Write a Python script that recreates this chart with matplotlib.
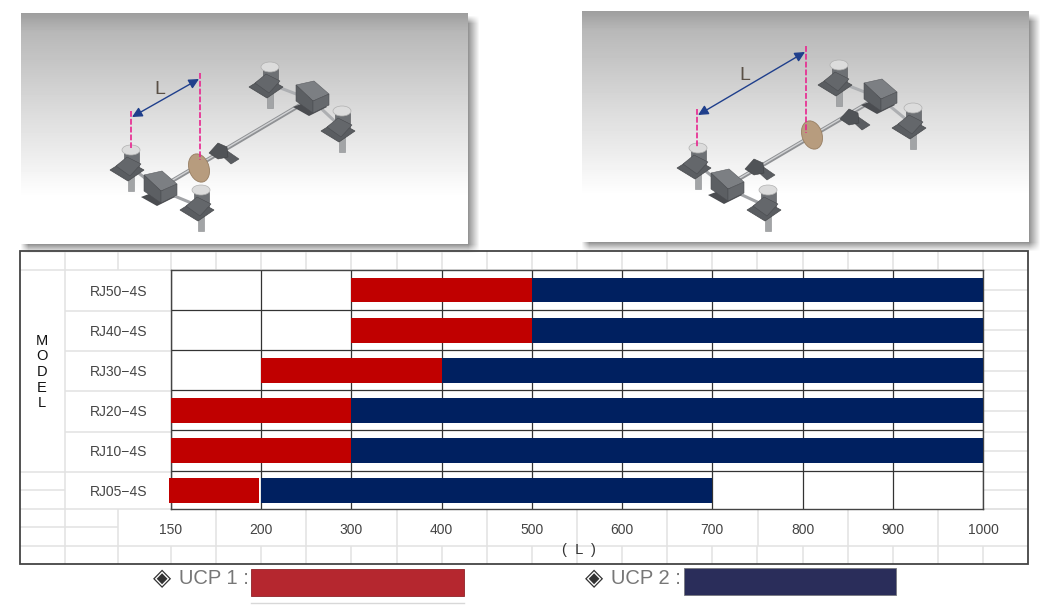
import numpy as np
import matplotlib
matplotlib.use('Agg')
import matplotlib.pyplot as plt
from matplotlib.patches import Rectangle, Polygon, Ellipse, FancyArrowPatch

plt.rcParams['font.family'] = ['Liberation Sans', 'DejaVu Sans']

# chart data, top row first
models = ['RJ50−4S', 'RJ40−4S', 'RJ30−4S', 'RJ20−4S', 'RJ10−4S', 'RJ05−4S']
ucp1_start = [300, 300, 200, 150, 150, 149]
ucp1_end = [500, 500, 400, 300, 300, 199]
ucp2_start = [500, 500, 400, 300, 300, 200]
ucp2_end = [1000, 1000, 1000, 1000, 1000, 700]
x_ticks = [150, 200, 300, 400, 500, 600, 700, 800, 900, 1000]

RED = '#c00000'
NAVY = '#002060'
W, H = 1050, 615

fig = plt.figure(figsize=(W / 100, H / 100), dpi=100)

# full size axes in pixel coordinates for everything around the chart
bg = fig.add_axes([0, 0, 1, 1])
bg.axis('off')


def shadow(x0, y0, x1, y1):
    # soft shadow falling to the right and below the panel
    xs = np.arange(x0, x1 + 12)
    ys = np.arange(y0, y1 + 10)
    ax_fade = np.clip((x1 + 11 - xs) / 11, 0, 1) * np.clip((xs - x0 + 1) / 8, 0, 1)
    ay_fade = np.clip((y1 + 9 - ys) / 9, 0, 1) * np.clip((ys - y0 - 2) / 8, 0, 1)
    rgba = np.zeros((len(ys), len(xs), 4))
    rgba[..., 3] = 0.42 * np.outer(ay_fade, ax_fade)
    bg.imshow(rgba, aspect='auto', extent=(x0, x1 + 12, y1 + 10, y0), zorder=1,
              interpolation='bilinear')


def panel(x0, y0, x1, y1):
    shadow(x0, y0, x1, y1)
    n = y1 - y0
    t = np.linspace(0, 1, n)
    # grey at the top fading to white about three quarters down
    vals = np.interp(t, [0, 0.08, 0.25, 0.45, 0.62, 0.72, 0.8, 1],
                     [0.62, 0.72, 0.79, 0.87, 0.93, 0.97, 1.0, 1.0])
    bg.imshow(vals[:, None], cmap='gray', vmin=0, vmax=1, aspect='auto',
              extent=(x0, x1, y1, y0), zorder=2)


def jack(x, y):
    # x, y is the centre of the top disc
    bg.add_patch(Rectangle((x - 3, y + 22), 6, 19, fc='#a2a4a6', ec='#8a8c8f', lw=0.4, zorder=4))
    bg.add_patch(Polygon([(x - 21, y + 20), (x - 5, y + 10), (x + 13, y + 20), (x - 3, y + 31)],
                         fc='#5a5d61', ec='#46484b', lw=0.5, zorder=5))
    bg.add_patch(Rectangle((x - 7, y + 2), 15, 15, fc='#6d7074', ec='#505256', lw=0.4, zorder=6))
    bg.add_patch(Polygon([(x - 15, y + 16), (x - 4, y + 7), (x + 10, y + 14), (x - 1, y + 26)],
                         fc='#64676b', ec='#4a4c50', lw=0.4, zorder=6))
    bg.add_patch(Ellipse((x, y), 18, 10, fc='#dcdcdc', ec='#b0b0b0', lw=0.5, zorder=7))


def gearbox(x, y):
    bg.add_patch(Polygon([(x - 19, y + 9), (x + 2, y + 1), (x + 15, y + 9), (x - 3, y + 18)],
                         fc='#4a4c50', ec='none', zorder=6))
    bg.add_patch(Polygon([(x - 16, y - 13), (x + 2, y - 17), (x + 17, y - 4), (x + 1, y + 3)],
                         fc='#7c7f83', ec='#5c5e62', lw=0.4, zorder=7))
    bg.add_patch(Polygon([(x - 16, y - 13), (x + 1, y + 3), (x + 1, y + 15), (x - 16, y + 3)],
                         fc='#5c5f63', ec='#4c4e52', lw=0.4, zorder=7))
    bg.add_patch(Polygon([(x + 1, y + 3), (x + 17, y - 4), (x + 17, y + 7), (x + 1, y + 15)],
                         fc='#66696d', ec='#4c4e52', lw=0.4, zorder=7))


def pillow(x, y):
    bg.add_patch(Polygon([(x - 2, y - 1), (x + 5, y - 4), (x + 18, y + 5), (x + 10, y + 10)],
                         fc='#5a5d61', ec='#46484b', lw=0.4, zorder=9))
    bg.add_patch(Polygon([(x - 12, y - 1), (x - 3, y - 11), (x + 6, y - 7), (x + 7, y + 3), (x - 3, y + 5)],
                         fc='#505357', ec='#3f4144', lw=0.4, zorder=9))


def rig(front, back, jacks, gear, pillows, left_guide, right_guide, label_pos):
    for j in jacks[:2]:
        bg.plot([j[0], front[0]], [j[1] + 17, front[1] + 2], color='#a2a4a7', lw=2.2, zorder=3.5,
                solid_capstyle='butt')
    for j in jacks[2:]:
        bg.plot([j[0], back[0]], [j[1] + 17, back[1] + 2], color='#adafb2', lw=2.2, zorder=3.5,
                solid_capstyle='butt')
    bg.plot([front[0], back[0]], [front[1], back[1]], color='#8f9194', lw=3.0, zorder=3.6)
    bg.plot([front[0], back[0]], [front[1] - 0.5, back[1] - 0.5], color='#d2d3d5', lw=1.0, zorder=3.7)
    for j in jacks:
        jack(*j)
    gearbox(*front)
    gearbox(*back)
    for p in pillows:
        pillow(*p)
    bg.add_patch(Ellipse(gear, 20, 29, angle=-18, fc='#b79c7e', ec='#977e62', lw=0.6, zorder=10))
    # guide lines, dimension arrow and its L
    for x, y0, y1 in (left_guide, right_guide):
        bg.plot([x, x], [y0, y1], color='#e8258f', lw=1.2, ls=(0, (3.5, 1.2)), zorder=11)
    bg.add_patch(FancyArrowPatch((left_guide[0] + 1, left_guide[1] + 6),
                                 (right_guide[0] - 1, right_guide[1] + 6),
                                 arrowstyle='<|-|>', mutation_scale=15, color='#1f3f8c',
                                 lw=1.0, shrinkA=0, shrinkB=0, zorder=12))
    bg.text(label_pos[0], label_pos[1], 'L', fontsize=14, color='#5a5046', ha='center',
            va='center', zorder=12)


# the table sits under the shadow of the pictures
bg.add_patch(Rectangle((20, 251), 1008, 313, fc='white', ec='none', zorder=0.5))

panel(21, 13, 468, 244)
rig((160, 188), (312, 98), [(131, 150), (201, 190), (270, 67), (342, 111)], (199, 168),
    [(221, 154)], (131, 111, 148), (200, 73, 160), (160, 89))
panel(582, 11, 1029, 242)
rig((727, 186), (880, 96), [(698, 148), (768, 190), (839, 65), (913, 108)], (812, 135),
    [(757, 170), (852, 120)], (697, 109, 147), (806, 46, 133), (745, 75))

# faint spreadsheet grid of the table
LIGHT = '#e2e2e2'


def hl(y, x0, x1):
    bg.plot([x0, x1], [y, y], color=LIGHT, lw=1.1, zorder=14, solid_capstyle='butt')


def vl(x, y0, y1):
    bg.plot([x, x], [y0, y1], color=LIGHT, lw=1.1, zorder=14, solid_capstyle='butt')


for x in np.linspace(171, 983, 19):
    vl(x, 251, 270)
    vl(x, 546, 564)
for x in np.linspace(216, 938, 9):
    vl(x, 509, 546)
for x in (65, 118):
    vl(x, 251, 270)
    vl(x, 509, 564)
vl(65, 270, 509)
hl(270, 20, 1028)
for y in (310.5, 351, 391, 432):
    hl(y, 65, 171)
for y in (290, 310.5, 330, 351, 371, 391, 411, 432, 451, 472, 490, 509):
    hl(y, 983, 1028)
hl(472, 20, 171)
hl(490, 20, 65)
hl(509, 20, 171)
hl(509, 171, 1028)
hl(527, 20, 118)
hl(546, 20, 1028)
bg.add_patch(Rectangle((20, 251), 1008, 313, fc='none', ec='#444444', lw=1.3, zorder=15))

# legend below the table
for x, lab in ((153, 'UCP 1'), (585, 'UCP 2')):
    bg.text(x, 578, '◈', fontsize=17, color='#333333', family='DejaVu Sans', ha='left',
            va='center', zorder=16)
    bg.text(x + 26, 579, lab + ' :', fontsize=14.5, color='#777777', ha='left', va='center', zorder=16)
bg.add_patch(Rectangle((251, 569), 213, 27, fc='#b5272f', ec='#8f2228', lw=0.6, zorder=16))
bg.add_patch(Rectangle((684, 568), 212, 27, fc='#2a2d5a', ec='#77787f', lw=0.6, zorder=16))
bg.plot([251, 464], [603, 603], color='#d8d8d8', lw=1, zorder=16)

bg.text(42, 372, 'M\nO\nD\nE\nL', fontsize=10.5, color='#111111', ha='center',
        va='center', linespacing=1.15, zorder=16)
bg.text(579, 550, '(  L  )', fontsize=10.5, color='#333333', ha='center', va='center', zorder=16)

bg.set_xlim(0, W)
bg.set_ylim(H, 0)

# the chart itself: ticks are evenly spaced, so the x scale is piecewise
knots = [100] + x_ticks + [1100]
slots = list(range(-1, len(x_ticks) + 1))


def to_slot(v):
    return np.interp(v, knots, slots)


def from_slot(v):
    return np.interp(v, slots, knots)


ax = fig.add_axes([171 / W, (H - 509) / H, 812 / W, 239 / H], zorder=5)
ax.set_xscale('function', functions=(to_slot, from_slot))
ax.set_xlim(150, 1000)
ax.set_ylim(-0.46, 5.5)

y = np.arange(len(models))[::-1]
ax.barh(y, np.array(ucp2_end) - np.array(ucp2_start), left=ucp2_start, height=0.62,
        color=NAVY, zorder=3, clip_on=False)
ax.barh(y, np.array(ucp1_end) - np.array(ucp1_start), left=ucp1_start, height=0.62,
        color=RED, zorder=3.1, clip_on=False)

ax.set_xticks(x_ticks)
ax.set_xticklabels([str(t) for t in x_ticks], fontsize=10, color='#444444')
ax.xaxis.set_minor_locator(matplotlib.ticker.NullLocator())
ax.set_yticks(y)
ax.set_yticklabels(models, fontsize=10, color='#444444', ha='center')
ax.set_yticks(y[:-1] - 0.5, minor=True)
ax.tick_params(axis='both', which='both', length=0)
ax.tick_params(axis='x', pad=10)
ax.tick_params(axis='y', pad=38)
ax.set_axisbelow(True)
ax.grid(axis='x', which='major', color='#333333', lw=0.9)
ax.grid(axis='y', which='minor', color='#333333', lw=0.9)
for s in ax.spines.values():
    s.set_color('#444444')
    s.set_linewidth(1.0)

fig.savefig('out.png', dpi=100)
